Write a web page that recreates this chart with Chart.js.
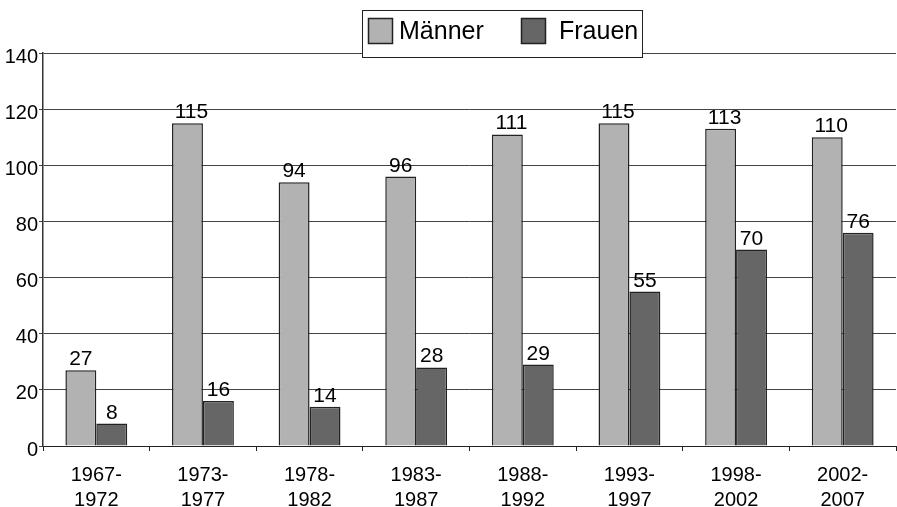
<!DOCTYPE html>
<html><head><meta charset="utf-8">
<script src="https://cdn.jsdelivr.net/npm/chart.js@4"></script>
<style>html,body{margin:0;padding:0;background:#fff;}#wrap{width:897px;height:507px;}</style>
</head><body><div id="wrap"><canvas id="c" width="897" height="507"></canvas></div>
<script>
const categories = [['1967-','1972'],['1973-','1977'],['1978-','1982'],['1983-','1987'],['1988-','1992'],['1993-','1997'],['1998-','2002'],['2002-','2007']];
const maenner = [27,115,94,96,111,115,113,110];
const frauen = [8,16,14,28,29,55,70,76];
const seriesNames = ['Männer','Frauen'];
const seriesColors = ['#b2b2b2','#666666'];
const yTicks = [0,20,40,60,80,100,120,140];

const FONT = '"Liberation Sans", Arial, sans-serif';

const valueLabels = {
  id:'valueLabels',
  afterDatasetsDraw(chart){
    const ctx = chart.ctx;
    ctx.save();
    ctx.font = '21px ' + FONT;
    ctx.fillStyle = '#000';
    ctx.textAlign = 'center';
    ctx.textBaseline = 'alphabetic';
    chart.data.datasets.forEach((ds,i)=>{
      chart.getDatasetMeta(i).data.forEach((el,j)=>{
        const s = String(ds.data[j]);
        const dx = s.length > 2 ? 4 : 0;
        ctx.fillText(s, el.x + dx, el.y - 5);
      });
    });
    ctx.restore();
  }
};

const boxLegend = {
  id:'boxLegend',
  afterDraw(chart){
    const ctx = chart.ctx;
    ctx.save();
    const x0=362.5, y0=10.5, w=280, h=47;
    ctx.fillStyle='#fff';
    ctx.fillRect(x0,y0,w,h);
    ctx.strokeStyle='#222';
    ctx.lineWidth=1;
    ctx.strokeRect(x0,y0,w,h);
    ctx.font='25px '+FONT;
    ctx.textBaseline='alphabetic';
    ctx.textAlign='left';
    const items=[{sx:368.5,tx:399},{sx:521.5,tx:559}];
    chart.data.datasets.forEach((ds,i)=>{
      const it=items[i];
      ctx.fillStyle=ds.backgroundColor;
      ctx.fillRect(it.sx,18.5,24,25);
      ctx.lineWidth=1.5;
      ctx.strokeStyle='#222';
      ctx.strokeRect(it.sx,18.5,24,25);
      ctx.fillStyle='#000';
      ctx.fillText(ds.label,it.tx,39);
    });
    ctx.restore();
  }
};

new Chart(document.getElementById('c'),{
  type:'bar',
  data:{
    labels:categories,
    datasets:[
      {label:seriesNames[0],data:maenner,backgroundColor:seriesColors[0],borderColor:'#222',borderWidth:1.5},
      {label:seriesNames[1],data:frauen,backgroundColor:seriesColors[1],borderColor:'#222',borderWidth:1.5}
    ]
  },
  options:{
    responsive:false,
    animation:false,
    devicePixelRatio:1,
    layout:{padding:{top:53,right:1,left:0,bottom:0}},
    datasets:{bar:{categoryPercentage:0.58,barPercentage:1.0}},
    plugins:{legend:{display:false},tooltip:{enabled:false}},
    scales:{
      x:{
        grid:{offset:true,drawOnChartArea:false,tickLength:5,color:'#222'},
        border:{color:'#222',width:1},
        ticks:{font:{family:FONT,size:20,lineHeight:1.25},color:'#000',padding:12,maxRotation:0,autoSkip:false},
        afterFit(s){s.height=61;}
      },
      y:{
        min:0,max:140,
        afterBuildTicks(s){s.ticks=yTicks.map(v=>({value:v}));},
        grid:{color:'#444',tickLength:4},
        border:{color:'#333',width:1.5},
        ticks:{font:{family:FONT,size:20},color:'#000',padding:1,labelOffset:4},
        afterFit(s){s.width=43;}
      }
    }
  },
  plugins:[valueLabels,boxLegend]
});
</script></body></html>
